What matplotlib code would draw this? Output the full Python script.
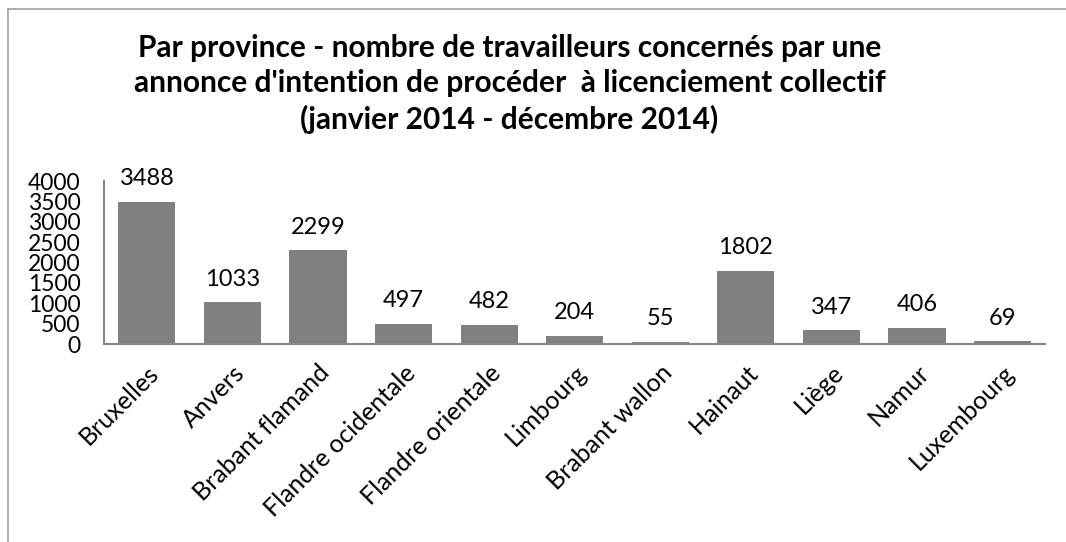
import matplotlib.pyplot as plt
import numpy as np

plt.rcParams['font.family'] = ['Lato', 'DejaVu Sans']

# data
provinces = ["Bruxelles", "Anvers", "Brabant flamand", "Flandre ocidentale",
             "Flandre orientale", "Limbourg", "Brabant wallon", "Hainaut",
             "Liège", "Namur", "Luxembourg"]
travailleurs = [3488, 1033, 2299, 497, 482, 204, 55, 1802, 347, 406, 69]
yticks = [0, 500, 1000, 1500, 2000, 2500, 3000, 3500, 4000]

title = ("Par province - nombre de travailleurs concernés par une\n"
         "annonce d'intention de procéder  à licenciement collectif\n"
         "(janvier 2014 - décembre 2014)")

fig = plt.figure(figsize=(10.66, 5.42), dpi=100)
ax = fig.add_axes([0.0976, 0.365, 0.883, 0.301])

x = np.arange(len(provinces))
bars = ax.bar(x, travailleurs, width=0.667, color="#808080")

# value labels above bars
for xi, v in zip(x, travailleurs):
    ax.annotate(str(v), (xi, v), xytext=(0, 9), textcoords="offset points",
                ha="center", va="bottom", fontsize=17, color="black")

ax.set_xlim(-0.5, len(provinces) - 0.5)
ax.set_ylim(0, 4000)
ax.set_yticks(yticks)
ax.set_yticklabels([str(t) for t in yticks], fontsize=16.5)
ax.set_xticks(x)
ax.set_xticklabels(provinces, rotation=45, ha="right", rotation_mode="anchor",
                   fontsize=18)
ax.tick_params(axis="x", length=0, pad=12)
ax.tick_params(axis="y", length=0, pad=17)

for s in ["top", "right"]:
    ax.spines[s].set_visible(False)
for s in ["left", "bottom"]:
    ax.spines[s].set_color("#868686")
    ax.spines[s].set_linewidth(1.5)

fig.text(0.478, 0.845, title, ha="center", va="center", fontsize=21.5,
         fontweight="bold", linespacing=1.33)

# chart-area border (top and left only visible)
fig.add_artist(plt.Line2D([0.0075, 1.0], [0.983, 0.983], color="#a0a0a0",
                          linewidth=1.2, transform=fig.transFigure))
fig.add_artist(plt.Line2D([0.0075, 0.0075], [0.0, 0.983], color="#a0a0a0",
                          linewidth=1.2, transform=fig.transFigure))

fig.savefig("out.png", dpi=100)
